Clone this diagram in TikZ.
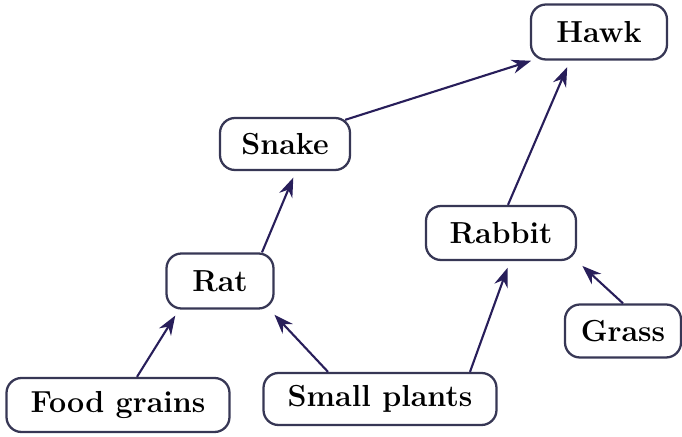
\documentclass[tikz,border=0pt]{standalone}
\usetikzlibrary{arrows.meta}
\definecolor{arrowblue}{RGB}{40,30,90}
\definecolor{boxline}{RGB}{55,55,85}
\begin{document}
\begin{tikzpicture}[
    animal/.style={draw=boxline, line width=1.3pt, rounded corners=0.3cm, fill=white,
        font=\fontsize{17.3}{20}\selectfont\bfseries, inner sep=0pt},
    feeds/.style={draw=arrowblue, line width=1.2pt, shorten >=4pt,
        -{Stealth[length=11pt,width=8pt]}}
]
\useasboundingbox (0,0) rectangle (13.64,8.74);

\node[animal, minimum width=2.72cm, minimum height=1.1cm] (hawk) at (11.98,8.10) {Hawk};
\node[animal, minimum width=2.6cm, minimum height=1.04cm] (snake) at (5.70,5.86) {Snake};
\node[animal, minimum width=3.0cm, minimum height=1.08cm] (rabbit) at (10.02,4.08) {Rabbit};
\node[animal, minimum width=2.14cm, minimum height=1.1cm] (rat) at (4.40,3.12) {Rat};
\node[animal, minimum width=2.32cm, minimum height=1.06cm] (grass) at (12.46,2.12) {Grass};
\node[animal, minimum width=4.46cm, minimum height=1.08cm] (grains) at (2.36,0.64) {Food grains};
\node[animal, minimum width=4.66cm, minimum height=1.04cm] (plants) at (7.60,0.76) {Small plants};

% who eats whom
\draw[feeds] ([xshift=0.38cm]grains.north) -- ([xshift=-0.82cm]rat.south);
\draw[feeds] ([xshift=-1.04cm]plants.north) -- ([xshift=-0.1cm]rat.south east);
\draw[feeds] ([xshift=1.80cm]plants.north) -- ([xshift=0.18cm]rabbit.south);
\draw[feeds] (grass.north) -- (rabbit.south east);
\draw[feeds] ([xshift=0.84cm]rat.north) -- ([xshift=0.22cm]snake.south);
\draw[feeds] ([xshift=0.14cm]rabbit.north) -- ([xshift=-0.58cm]hawk.south);
\draw[feeds] ([shift={(-0.12cm,-0.06cm)}]snake.north east) -- ([shift={(0.16cm,0.04cm)}]hawk.south west);
\end{tikzpicture}
\end{document}
